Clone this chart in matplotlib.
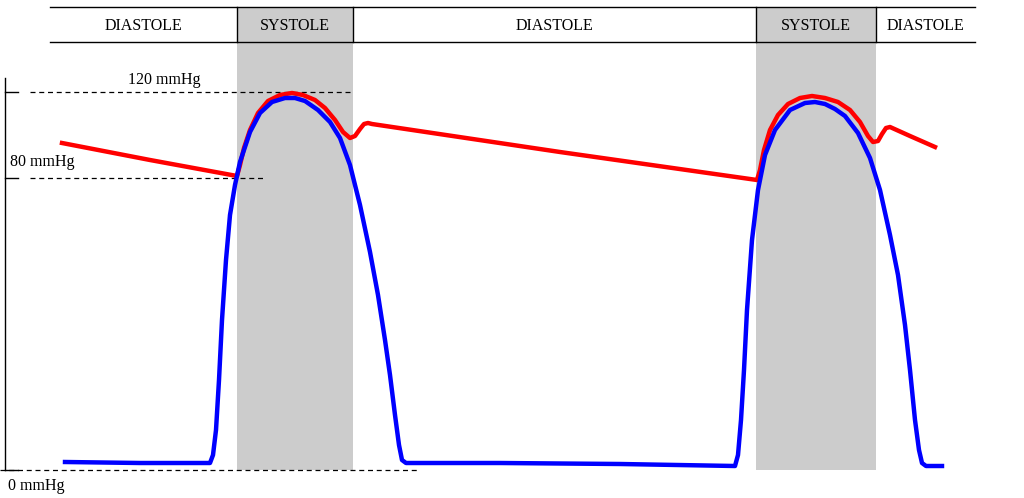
import matplotlib
matplotlib.use("Agg")
import matplotlib.pyplot as plt
from matplotlib.patches import Rectangle

# Schematic coordinates (x: time units, y: screen-like units, 0 at top)
ventricle_x = [65, 140, 210, 213, 216, 219, 222, 226, 230, 235, 240, 250, 260, 272, 285, 295, 305, 318, 330, 340, 350, 360, 370, 378, 385, 390, 395, 399, 402, 406,
               500, 620, 735, 738, 741, 744, 747, 752, 758, 765, 775, 790, 805, 815, 825, 835, 845, 858, 870, 880, 890, 898, 905, 910, 915, 919, 922, 926, 942]
ventricle_y = [462, 463, 463, 455, 430, 380, 320, 260, 215, 185, 162, 132, 113, 102, 98, 98, 101, 110, 122, 138, 165, 205, 252, 295, 340, 375, 415, 445, 460, 463,
               463, 464, 466, 455, 420, 370, 310, 240, 190, 155, 130, 110, 103, 102, 104, 109, 116, 133, 158, 190, 235, 275, 325, 370, 420, 450, 463, 466, 466]
aorta_x = [62, 150, 237, 240, 244, 250, 258, 268, 280, 292, 303, 315, 325, 335, 343, 350, 355, 360, 364, 368, 372,
           560, 757, 760, 764, 770, 778, 788, 800, 812, 825, 838, 850, 860, 868, 873, 878, 882, 886, 890, 910, 935]
aorta_y = [143, 160, 176, 165, 148, 130, 113, 101, 95, 93, 95, 100, 108, 120, 132, 138, 136, 129, 124, 123, 124,
           152, 180, 170, 150, 130, 115, 104, 98, 96, 98, 102, 110, 122, 136, 142, 141, 134, 128, 127, 136, 147]

phases = ["DIASTOLE", "SYSTOLE", "DIASTOLE", "SYSTOLE", "DIASTOLE"]
phase_bounds = [50, 237, 353, 756, 876, 975]
ref_labels = ["120 mmHg", "80 mmHg", "0 mmHg"]
ref_levels = [92, 178, 470]
ref_dash_ends = [350, 265, 420]

fig = plt.figure(figsize=(10.24, 4.98), dpi=100)
ax = fig.add_axes([0, 0, 1, 1])
ax.set_xlim(0, 1024)
ax.set_ylim(498, 0)
ax.axis("off")
serif = ["Liberation Serif", "DejaVu Serif"]

# systole bands
for i, name in enumerate(phases):
    x0, x1 = phase_bounds[i], phase_bounds[i + 1]
    if name == "SYSTOLE":
        ax.add_patch(Rectangle((x0, 7), x1 - x0, 463, color="#cccccc", zorder=0, lw=0))
        ax.plot([x0, x0], [7, 42], color="black", lw=1)
        ax.plot([x1, x1], [7, 42], color="black", lw=1)
    ax.text((x0 + x1) / 2, 26, name, ha="center", va="center", fontsize=11.5, family=serif)
ax.plot([phase_bounds[0], phase_bounds[-1]], [7, 7], color="black", lw=1)
ax.plot([phase_bounds[0], phase_bounds[-1]], [42, 42], color="black", lw=1)

# axis
ax.plot([5, 5], [78, 470], color="black", lw=1)
for lvl, end in zip(ref_levels, ref_dash_ends):
    ax.plot([5, 18], [lvl, lvl], color="black", lw=1)
    ax.plot([30 if lvl < 400 else 0, end], [lvl, lvl], color="black", lw=0.9, ls=(0, (4, 3)))
ax.text(128, 80, ref_labels[0], fontsize=11.5, family=serif, va="center")
ax.text(10, 162, ref_labels[1], fontsize=11.5, family=serif, va="center")
ax.text(8, 486, ref_labels[2], fontsize=11.5, family=serif, va="center")

ax.plot(aorta_x, aorta_y, color="red", lw=3.2, solid_joinstyle="round", zorder=3)
ax.plot(ventricle_x, ventricle_y, color="blue", lw=3.2, solid_joinstyle="round", zorder=4)

fig.savefig("out.png", dpi=100)
